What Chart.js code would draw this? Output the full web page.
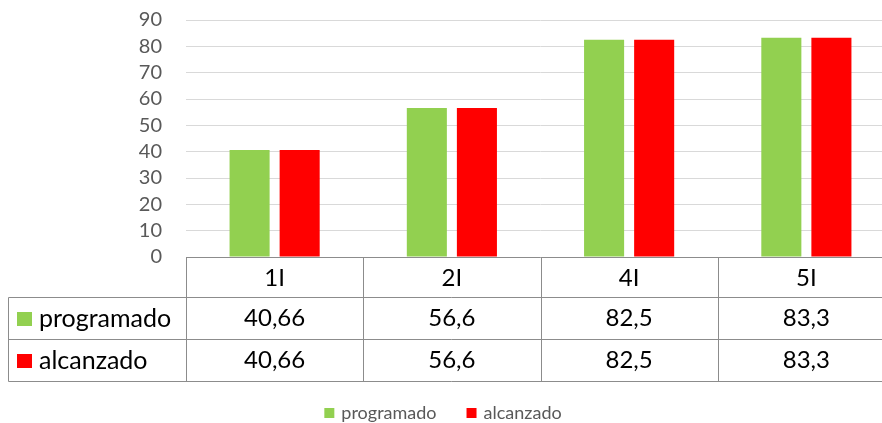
<!DOCTYPE html>
<html>
<head>
<meta charset="utf-8">
<script src="https://cdn.jsdelivr.net/npm/chart.js@4.4.0/dist/chart.umd.min.js"></script>
<style>
    html, body { margin: 0; padding: 0; background: #fff; overflow: hidden; }
    #wrap { position: relative; width: 895px; height: 423px; }
</style>
</head>
<body>
<div id="wrap"><canvas id="chart"></canvas></div>
<script>
// Chart data
const categories = ['1I', '2I', '4I', '5I'];
const programado = [40.66, 56.6, 82.5, 83.3];
const alcanzado = [40.66, 56.6, 82.5, 83.3];
const seriesNames = ['programado', 'alcanzado'];
const seriesColors = ['#92d050', '#ff0000'];

const FONT = 'Lato, "Open Sans", sans-serif';

// Format numbers the Spanish way (decimal comma)
const fmt = (v) => String(v).replace('.', ',');

// Excel-style data table drawn under the plot, using the x scale for columns
const dataTable = {
    id: 'dataTable',
    afterDraw(chart) {
        const { ctx, chartArea } = chart;
        const x = chart.scales.x;
        const top = Math.round(chartArea.bottom) + 0.5;
        const rows = [40, 42, 42];
        const y1 = top + rows[0];
        const y2 = y1 + rows[1];
        const y3 = y2 + rows[2];
        const colW = (x.right - x.left) / categories.length;
        const left0 = 8.5;
        const right = chart.width;

        ctx.save();
        ctx.strokeStyle = '#8c8c8c';
        ctx.lineWidth = 1;
        ctx.beginPath();
        // horizontal rules
        ctx.moveTo(x.left, top); ctx.lineTo(right, top);
        [y1, y2, y3].forEach(y => { ctx.moveTo(left0, y); ctx.lineTo(right, y); });
        // vertical rules
        ctx.moveTo(left0, y1); ctx.lineTo(left0, y3);
        for (let i = 0; i <= categories.length; i++) {
            const xx = Math.round(x.left + colW * i) + 0.5;
            ctx.moveTo(xx, top); ctx.lineTo(xx, y3);
        }
        ctx.stroke();

        ctx.fillStyle = '#000';
        ctx.font = '24px ' + FONT;
        ctx.textAlign = 'center';
        ctx.textBaseline = 'middle';
        categories.forEach((c, i) => {
            const cx = x.getPixelForValue(i);
            ctx.fillText(c, cx, top + rows[0] / 2 + 1);
        });

        chart.data.datasets.forEach((ds, r) => {
            const cy = (r === 0 ? y1 : y2) + rows[r + 1] / 2;
            ctx.font = '24px ' + FONT;
            ds.data.forEach((v, i) => {
                ctx.fillStyle = '#000';
                ctx.textAlign = 'center';
                ctx.fillText(fmt(v), x.getPixelForValue(i), cy);
            });
            // legend key in the first column
            ctx.fillStyle = ds.backgroundColor;
            ctx.fillRect(17, Math.round(cy - 7), 15, 14);
            ctx.fillStyle = '#000';
            ctx.textAlign = 'left';
            ctx.font = '25px ' + FONT;
            ctx.fillText(ds.label, 39, cy);
        });

        // bottom legend
        ctx.font = '18px ' + FONT;
        ctx.textBaseline = 'middle';
        const box = 10, gapText = 7, gapItem = 30;
        const widths = chart.data.datasets.map(ds => box + gapText + ctx.measureText(ds.label).width);
        const total = widths.reduce((a, b) => a + b, 0) + gapItem * (widths.length - 1);
        let lx = 441 - total / 2 + 2;
        const ly = 413;
        chart.data.datasets.forEach((ds, i) => {
            ctx.fillStyle = ds.backgroundColor;
            ctx.fillRect(lx, ly - box / 2, box, box);
            ctx.fillStyle = '#595959';
            ctx.textAlign = 'left';
            ctx.fillText(ds.label, lx + box + gapText, ly);
            lx += widths[i] + gapItem;
        });
        ctx.restore();
    }
};

const ctx = document.getElementById('chart').getContext('2d');
new Chart(ctx, {
    type: 'bar',
    data: {
        labels: categories,
        datasets: [
            { label: seriesNames[0], data: programado, backgroundColor: seriesColors[0] },
            { label: seriesNames[1], data: alcanzado, backgroundColor: seriesColors[1] }
        ]
    },
    options: {
        responsive: true,
        maintainAspectRatio: false,
        animation: false,
        categoryPercentage: 0.565,
        barPercentage: 0.8,
        layout: { padding: { top: 20, left: 0, right: 0, bottom: 0 } },
        plugins: {
            legend: { display: false },
            tooltip: { enabled: false }
        },
        scales: {
            x: {
                grid: { display: false },
                border: { display: false },
                ticks: { display: false },
                afterFit: (scale) => { scale.height = 166; }
            },
            y: {
                min: 0,
                max: 90,
                ticks: {
                    stepSize: 10,
                    autoSkip: false,
                    padding: 24,
                    color: '#595959',
                    font: { family: FONT, size: 20 }
                },
                grid: { color: '#d9d9d9', lineWidth: 1, drawTicks: false },
                border: { display: false },
                afterFit: (scale) => {
                    scale.width = 186;
                    // tick padding should not push the plot down
                    scale.paddingTop = 0;
                    scale.paddingBottom = 0;
                }
            }
        }
    },
    plugins: [dataTable]
});
</script>
</body>
</html>
